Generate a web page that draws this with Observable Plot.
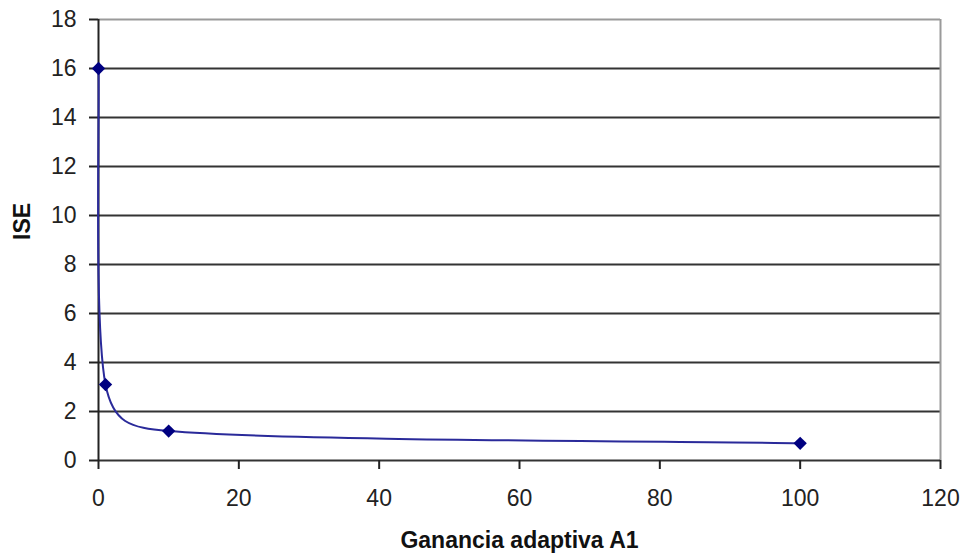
<!DOCTYPE html>
<html>
<head>
<meta charset="utf-8">
<script src="https://cdn.jsdelivr.net/npm/d3@7"></script>
<script src="https://cdn.jsdelivr.net/npm/@observablehq/plot@0.6"></script>
<style>
  html, body { margin: 0; padding: 0; background: #fff; }
</style>
</head>
<body>
<div id="chart"></div>
<script>
const gainValues = [0, 1, 10, 100];
const iseValues = [16, 3.1, 1.2, 0.7];
const xTicks = [0, 20, 40, 60, 80, 100, 120];
const yTicks = [0, 2, 4, 6, 8, 10, 12, 14, 16, 18];
const xLabel = "Ganancia adaptiva A1";
const yLabel = "ISE";

const data = gainValues.map((g, i) => ({gain: g, ise: iseValues[i]}));

// Spreadsheet-style smoothed line: Bezier segments whose control points follow
// the neighbour direction at 1/6 of its length, capped at half the segment.
function smoothCurve(context) {
  let pts = [];
  const dist = (a, b) => Math.hypot(b[0] - a[0], b[1] - a[1]);
  return {
    areaStart() {}, areaEnd() {},
    lineStart() { pts = []; },
    point(x, y) { pts.push([+x, +y]); },
    lineEnd() {
      const n = pts.length;
      if (!n) return;
      context.moveTo(pts[0][0], pts[0][1]);
      for (let i = 0; i < n - 1; i++) {
        const p0 = pts[Math.max(i - 1, 0)], p1 = pts[i], p2 = pts[i + 1], p3 = pts[Math.min(i + 2, n - 1)];
        const d12 = dist(p1, p2);
        const fac = (a, b) => { const d = dist(a, b); if (d === 0) return 0; return d / 6 > d12 / 2 ? d12 / (2 * d) : 1 / 6; };
        const f1 = fac(p0, p2), f2 = fac(p1, p3);
        context.bezierCurveTo(
          p1[0] + f1 * (p2[0] - p0[0]), p1[1] + f1 * (p2[1] - p0[1]),
          p2[0] - f2 * (p3[0] - p1[0]), p2[1] - f2 * (p3[1] - p1[1]),
          p2[0], p2[1]
        );
      }
    }
  };
}

const chart = Plot.plot({
  width: 967,
  height: 559,
  marginLeft: 98,
  marginRight: 27,
  marginTop: 19,
  marginBottom: 99,
  style: {fontFamily: "'Liberation Sans', Arial, sans-serif", fontSize: "23px", background: "#fff", color: "#222"},
  x: {domain: [0, 120]},
  y: {domain: [0, 18]},
  marks: [
    Plot.gridY(yTicks.slice(1, -1), {stroke: "#333", strokeOpacity: 1, strokeWidth: 2}),
    Plot.ruleY([18], {stroke: "#9a9a9a", strokeWidth: 2}),
    Plot.ruleX([120], {stroke: "#9a9a9a", strokeWidth: 2}),
    Plot.ruleY([0], {stroke: "#333", strokeWidth: 2}),
    Plot.ruleX([0], {stroke: "#222", strokeWidth: 2}),
    Plot.axisY({ticks: yTicks, tickSize: 9, tickPadding: 13, stroke: "#222", strokeWidth: 2, fill: "#222", label: null}),
    Plot.axisX({ticks: xTicks, tickSize: 9, tickPadding: 20, stroke: "#222", strokeWidth: 2, fill: "#222", label: null}),
    Plot.text([yLabel], {frameAnchor: "left", dx: -75.5, rotate: -90, lineAnchor: "middle", fontWeight: "bold", fontSize: 23, fill: "#111"}),
    Plot.text([xLabel], {frameAnchor: "bottom", dy: 80, lineAnchor: "middle", fontWeight: "bold", fontSize: 23, fill: "#111"}),
    Plot.line(data, {x: "gain", y: "ise", curve: smoothCurve, stroke: "#2a2a9a", strokeWidth: 2}),
    Plot.dot(data, {x: "gain", y: "ise", symbol: "diamond2", r: 6, fill: "#000080", stroke: "none"})
  ]
});
document.getElementById("chart").appendChild(chart);
</script>
</body>
</html>
